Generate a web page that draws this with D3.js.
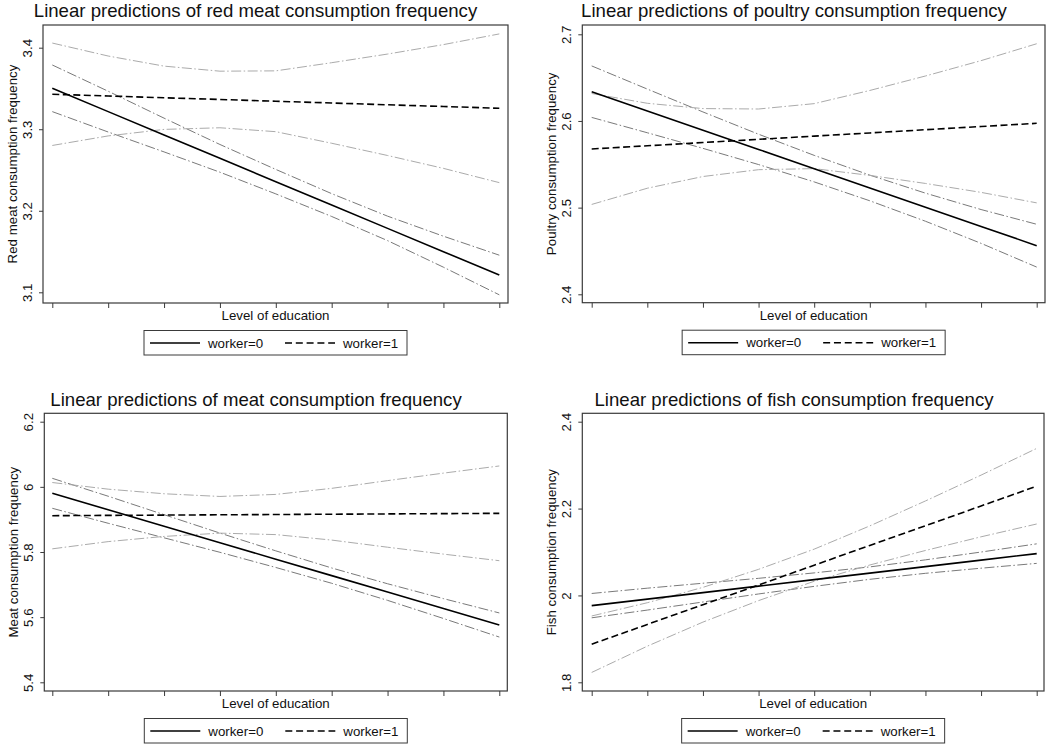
<!DOCTYPE html>
<html>
<head>
<meta charset="utf-8">
<script src="https://cdn.jsdelivr.net/npm/d3@7"></script>
<style>
  body { margin: 0; background: #fff; }
  text { font-family: "Liberation Sans", Arial, sans-serif; fill: #111; }
</style>
</head>
<body>
<svg id="chart" width="1050" height="746"></svg>
<script>
// x = level of education (9 levels), one value per level
var educLevels = [1, 2, 3, 4, 5, 6, 7, 8, 9];
var legendLabels = ["worker=0", "worker=1"];

// red meat
var redW0   = [3.3502, 3.3216, 3.2929, 3.2643, 3.2357, 3.2070, 3.1784, 3.1498, 3.1212];
var redW0Hi = [3.3788, 3.3466, 3.3136, 3.2813, 3.2507, 3.2210, 3.1934, 3.1688, 3.1455];
var redW0Lo = [3.3216, 3.2966, 3.2722, 3.2473, 3.2207, 3.1930, 3.1634, 3.1308, 3.0969];
var redW1   = [3.3429, 3.3408, 3.3386, 3.3365, 3.3343, 3.3322, 3.3300, 3.3279, 3.3257];
var redW1Hi = [3.4057, 3.3898, 3.3774, 3.3712, 3.3716, 3.3816, 3.3922, 3.4038, 3.4169];
var redW1Lo = [3.2801, 3.2918, 3.2998, 3.3018, 3.2970, 3.2828, 3.2678, 3.2520, 3.2345];
var redTicks = [3.1, 3.2, 3.3, 3.4];

// poultry
var poultryW0   = [2.6338, 2.6116, 2.5894, 2.5672, 2.5450, 2.5227, 2.5005, 2.4783, 2.4561];
var poultryW0Hi = [2.6635, 2.6368, 2.6104, 2.5847, 2.5603, 2.5375, 2.5167, 2.4978, 2.4808];
var poultryW0Lo = [2.6041, 2.5864, 2.5684, 2.5497, 2.5297, 2.5079, 2.4843, 2.4588, 2.4314];
var poultryW1   = [2.5677, 2.5714, 2.5751, 2.5788, 2.5825, 2.5862, 2.5899, 2.5936, 2.5973];
var poultryW1Hi = [2.6317, 2.6204, 2.6143, 2.6138, 2.6200, 2.6352, 2.6519, 2.6696, 2.6891];
var poultryW1Lo = [2.5037, 2.5224, 2.5359, 2.5438, 2.5450, 2.5372, 2.5279, 2.5176, 2.5055];
var poultryTicks = [2.4, 2.5, 2.6, 2.7];

// meat
var meatW0   = [5.9802, 5.9297, 5.8791, 5.8286, 5.7780, 5.7275, 5.6770, 5.6264, 5.5759];
var meatW0Hi = [6.0262, 5.9712, 5.9146, 5.8581, 5.8035, 5.7510, 5.7025, 5.6569, 5.6129];
var meatW0Lo = [5.9342, 5.8882, 5.8436, 5.7991, 5.7525, 5.7040, 5.6515, 5.5959, 5.5389];
var meatW1   = [5.9115, 5.9124, 5.9133, 5.9142, 5.9151, 5.9160, 5.9169, 5.9178, 5.9187];
var meatW1Hi = [6.0133, 5.9929, 5.9788, 5.9705, 5.9768, 5.9954, 6.0191, 6.0421, 6.0641];
var meatW1Lo = [5.8097, 5.8319, 5.8478, 5.8579, 5.8534, 5.8366, 5.8147, 5.7935, 5.7733];
var meatTicks = [5.4, 5.6, 5.8, 6, 6.2];

// fish
var fishW0   = [1.9765, 1.9915, 2.0065, 2.0214, 2.0364, 2.0514, 2.0664, 2.0813, 2.0963];
var fishW0Hi = [2.0045, 2.0167, 2.0281, 2.0394, 2.0519, 2.0657, 2.0819, 2.0999, 2.1188];
var fishW0Lo = [1.9485, 1.9663, 1.9849, 2.0034, 2.0209, 2.0371, 2.0509, 2.0627, 2.0738];
var fishW1   = [1.8877, 1.9332, 1.9786, 2.0241, 2.0696, 2.1151, 2.1605, 2.2060, 2.2515];
var fishW1Hi = [1.9527, 1.9832, 2.0186, 2.0601, 2.1066, 2.1601, 2.2175, 2.2770, 2.3385];
var fishW1Lo = [1.8227, 1.8832, 1.9386, 1.9881, 2.0326, 2.0701, 2.1035, 2.1350, 2.1645];
var fishTicks = [1.8, 2, 2.2, 2.4];

var panels = [
  { title: "Linear predictions of red meat consumption frequency", ylab: "Red meat consumption frequency",
    ticks: redTicks, w0: redW0, w0Hi: redW0Hi, w0Lo: redW0Lo, w1: redW1, w1Hi: redW1Hi, w1Lo: redW1Lo },
  { title: "Linear predictions of poultry consumption frequency", ylab: "Poultry consumption frequency",
    ticks: poultryTicks, w0: poultryW0, w0Hi: poultryW0Hi, w0Lo: poultryW0Lo, w1: poultryW1, w1Hi: poultryW1Hi, w1Lo: poultryW1Lo },
  { title: "Linear predictions of meat consumption frequency", ylab: "Meat consumption frequency",
    ticks: meatTicks, w0: meatW0, w0Hi: meatW0Hi, w0Lo: meatW0Lo, w1: meatW1, w1Hi: meatW1Hi, w1Lo: meatW1Lo },
  { title: "Linear predictions of fish consumption frequency", ylab: "Fish consumption frequency",
    ticks: fishTicks, w0: fishW0, w0Hi: fishW0Hi, w0Lo: fishW0Lo, w1: fishW1, w1Hi: fishW1Hi, w1Lo: fishW1Lo }
];

// where each panel sits on the page
var layout = [
  { left: 43,    right: 508,  top: 25,    bottom: 303,   x0: 52.3,  x1: 499.3,  yTop: 47.7,  yBot: 292.3, titleX: 255.5, titleY: 17 },
  { left: 582.3, right: 1045, top: 25,    bottom: 302.7, x0: 591.7, x1: 1036.7, yTop: 34.3,  yBot: 294.3, titleX: 794,   titleY: 17 },
  { left: 44.3,  right: 507.3, top: 413.3, bottom: 691,  x0: 52.3,  x1: 499.3,  yTop: 421.7, yBot: 682.3, titleX: 256,   titleY: 406 },
  { left: 582.3, right: 1044, top: 413.3, bottom: 691,   x0: 591.7, x1: 1036.7, yTop: 421.7, yBot: 682.3, titleX: 794,   titleY: 406 }
];

var axisColor = "#3a3a3a";
var ciStyles = {
  w0: { stroke: "#7a7a7a", dash: "10,2.5,1.5,2.5" },
  w1: { stroke: "#ababab", dash: "10,2.5,1.5,2.5" }
};

var svg = d3.select("#chart");

panels.forEach(function(p, i) {
  var L = layout[i];
  var g = svg.append("g").attr("class", "panel");

  var x = d3.scaleLinear().domain([educLevels[0], educLevels[educLevels.length - 1]]).range([L.x0, L.x1]);
  var y = d3.scaleLinear().domain([p.ticks[0], p.ticks[p.ticks.length - 1]]).range([L.yBot, L.yTop]);

  var line = d3.line()
      .x(function(d, j) { return x(educLevels[j]); })
      .y(function(d) { return y(d); });

  // title
  g.append("text")
      .attr("x", L.titleX)
      .attr("y", L.titleY)
      .attr("text-anchor", "middle")
      .style("font-size", "18.6px")
      .text(p.title);

  // confidence bands (dash-dot)
  [["w0Hi", "w0"], ["w0Lo", "w0"], ["w1Hi", "w1"], ["w1Lo", "w1"]].forEach(function(c) {
    g.append("path")
        .datum(p[c[0]])
        .attr("d", line)
        .attr("fill", "none")
        .attr("stroke", ciStyles[c[1]].stroke)
        .attr("stroke-width", 1)
        .attr("stroke-dasharray", ciStyles[c[1]].dash);
  });

  // predictions
  g.append("path")
      .datum(p.w0)
      .attr("d", line)
      .attr("fill", "none")
      .attr("stroke", "#000")
      .attr("stroke-width", 1.6);

  g.append("path")
      .datum(p.w1)
      .attr("d", line)
      .attr("fill", "none")
      .attr("stroke", "#000")
      .attr("stroke-width", 1.6)
      .attr("stroke-dasharray", "7,3.5");

  // plot region frame
  g.append("rect")
      .attr("x", L.left)
      .attr("y", L.top)
      .attr("width", L.right - L.left)
      .attr("height", L.bottom - L.top)
      .attr("fill", "none")
      .attr("stroke", axisColor)
      .attr("stroke-width", 1.2);

  // y axis, labels turned vertical like Stata
  var yAxis = g.append("g")
      .attr("transform", "translate(" + L.left + ",0)")
      .call(d3.axisLeft(y).tickValues(p.ticks).tickSize(4).tickFormat(d3.format("~g")));
  yAxis.select(".domain").remove();
  yAxis.selectAll("line").attr("stroke", axisColor);
  yAxis.selectAll("text")
      .attr("x", null)
      .attr("dy", null)
      .attr("text-anchor", "middle")
      .attr("transform", "translate(-11.5,0) rotate(-90)")
      .style("font-size", "13.3px")
      .style("font-family", "'Liberation Sans', Arial, sans-serif")
      .attr("fill", "#111");

  // x axis: ticks only
  var xAxis = g.append("g")
      .attr("transform", "translate(0," + L.bottom + ")")
      .call(d3.axisBottom(x).tickValues(educLevels).tickSize(5).tickFormat(""));
  xAxis.select(".domain").remove();
  xAxis.selectAll("line").attr("stroke", axisColor);

  g.append("text")
      .attr("x", (L.left + L.right) / 2)
      .attr("y", L.bottom + 17)
      .attr("text-anchor", "middle")
      .style("font-size", "13.3px")
      .text("Level of education");

  g.append("text")
      .attr("transform", "translate(" + (L.left - 26) + "," + ((L.top + L.bottom) / 2) + ") rotate(-90)")
      .attr("text-anchor", "middle")
      .style("font-size", "13.3px")
      .text(p.ylab);

  // legend
  var cx = (L.left + L.right) / 2;
  var lg = g.append("g").attr("transform", "translate(" + (cx - 131.5) + "," + (L.bottom + 27.5) + ")");
  lg.append("rect")
      .attr("width", 263)
      .attr("height", 24.5)
      .attr("fill", "#fff")
      .attr("stroke", axisColor)
      .attr("stroke-width", 1);
  lg.append("line")
      .attr("x1", 6).attr("x2", 56).attr("y1", 12.5).attr("y2", 12.5)
      .attr("stroke", "#000").attr("stroke-width", 1.6);
  lg.append("text")
      .attr("x", 64).attr("y", 17)
      .style("font-size", "13.3px")
      .text(legendLabels[0]);
  lg.append("line")
      .attr("x1", 141).attr("x2", 191).attr("y1", 12.5).attr("y2", 12.5)
      .attr("stroke", "#000").attr("stroke-width", 1.6)
      .attr("stroke-dasharray", "7,3.8");
  lg.append("text")
      .attr("x", 199).attr("y", 17)
      .style("font-size", "13.3px")
      .text(legendLabels[1]);
});
</script>
</body>
</html>
